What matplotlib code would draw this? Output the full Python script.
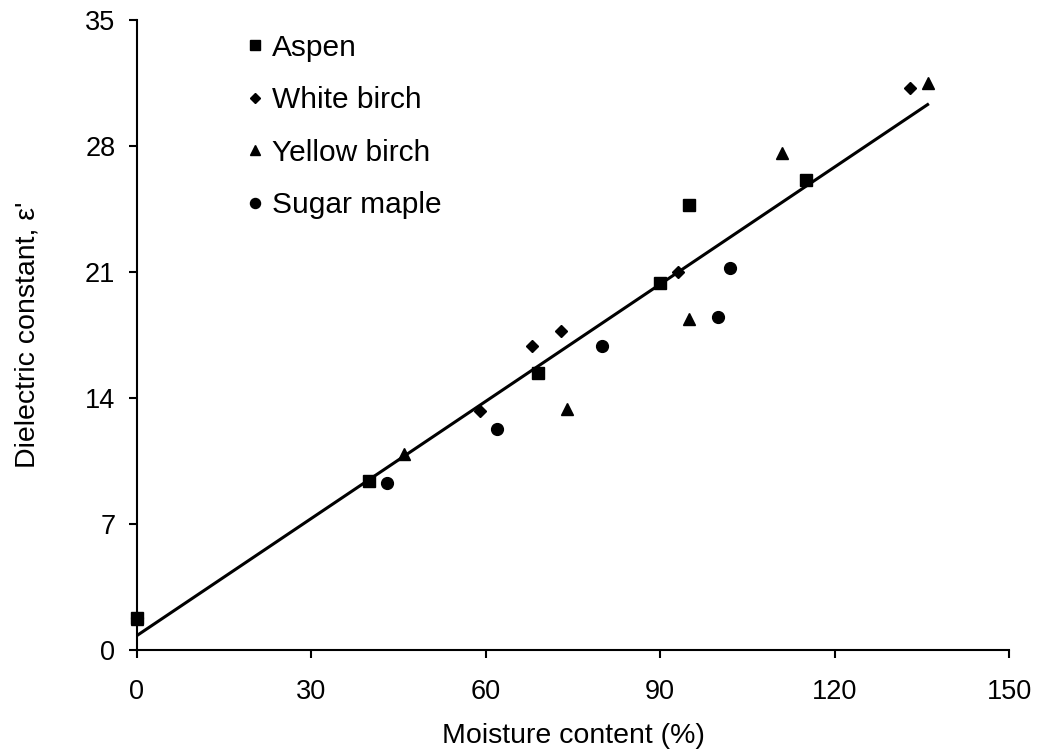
import matplotlib.pyplot as plt
import numpy as np

plt.rcParams['font.family'] = ['Liberation Sans', 'DejaVu Sans']

# data
aspen_x = [0, 40, 69, 90, 95, 115]
aspen_y = [1.8, 9.4, 15.4, 20.4, 24.7, 26.1]

white_x = [0, 59, 68, 73, 93, 133]
white_y = [1.8, 13.3, 16.9, 17.7, 21.0, 31.2]

yellow_x = [0, 46, 74, 95, 111, 136]
yellow_y = [1.7, 10.9, 13.4, 18.4, 27.6, 31.5]

maple_x = [0, 43, 62, 80, 100, 102]
maple_y = [1.8, 9.3, 12.3, 16.9, 18.5, 21.2]

fit_x = [0, 136]
fit_y = [0.8, 30.3]

fig = plt.figure(figsize=(10.37, 7.51), dpi=100)
ax = fig.add_axes([0.132, 0.1345, 0.841, 0.8389])

kw = dict(color='black', linestyle='none', clip_on=False)
ax.plot(aspen_x, aspen_y, marker='s', markersize=8, label='Aspen', **kw)
ax.plot(white_x, white_y, marker='D', markersize=6.5, label='White birch', **kw)
ax.plot(yellow_x, yellow_y, marker='^', markersize=9, label='Yellow birch', **kw)
ax.plot(maple_x, maple_y, marker='o', markersize=8.5, label='Sugar maple', **kw)
ax.plot(fit_x, fit_y, color='black', linewidth=2.2)

ax.set_xlim(0, 150)
ax.set_ylim(0, 35)
ax.set_xticks(np.arange(0, 151, 30))
ax.set_yticks(np.arange(0, 36, 7))
ax.spines['top'].set_visible(False)
ax.spines['right'].set_visible(False)
ax.spines['left'].set_linewidth(1.5)
ax.spines['bottom'].set_linewidth(1.5)
ax.tick_params(direction='out', length=6.1, width=1.5, labelsize=19.5)
ax.tick_params(axis='x', pad=14.8)
ax.tick_params(axis='y', pad=9.4)

ax.set_xlabel('Moisture content (%)', fontsize=20.5, labelpad=13)
ax.set_ylabel("Dielectric constant, ε'", fontsize=20.5, labelpad=32)

ax.legend(loc='upper left', bbox_to_anchor=(0.0966, 1.021), frameon=False,
          fontsize=21.5, labelspacing=0.82, handlelength=0.5, handletextpad=0.3,
          markerscale=0.85)

fig.savefig('out.png', dpi=100)
